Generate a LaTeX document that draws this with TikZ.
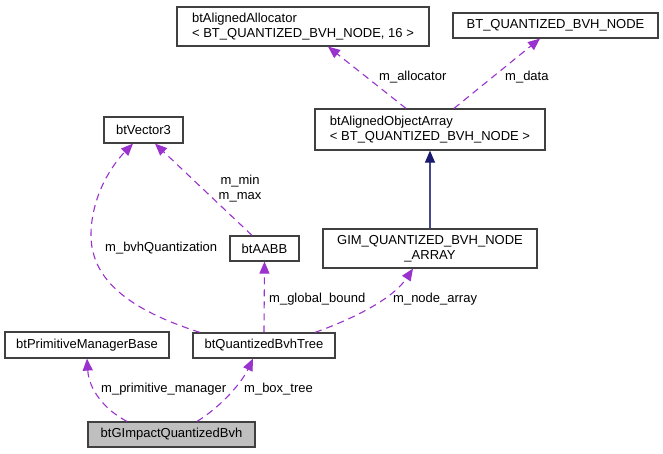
\documentclass[tikz,border=0pt]{standalone}
\usepackage{fontspec}
\setmainfont{Liberation Sans}
\usetikzlibrary{arrows.meta}
\definecolor{edgepurple}{HTML}{9A32CD}
\definecolor{navyedge}{HTML}{191970}
\definecolor{boxline}{HTML}{404040}
\definecolor{boxgray}{HTML}{BFBFBF}
\begin{document}
\begin{tikzpicture}[x=1pt,y=-1pt,
  font=\fontsize{13}{15}\selectfont,
  cls/.style={draw=boxline, line width=1.2pt, inner sep=0pt, fill=white},
  usage/.style={draw=edgepurple, line width=1.1pt, dash pattern=on 7pt off 5pt, -{Triangle[length=12pt,width=10pt]}},
  inherit/.style={draw=navyedge!80!white, line width=1.1pt, -{Triangle[length=12pt,width=10pt,color=navyedge,fill=navyedge]}},
  lbl/.style={inner sep=0pt, anchor=west}]
\useasboundingbox[fill=white] (0,0) rectangle (663,453);

\node[cls, minimum width=252pt, minimum height=39pt, align=left] (alloc) at (303,26.5) {btAlignedAllocator\\< BT\_QUANTIZED\_BVH\_NODE, 16 >};
\node[cls, minimum width=205pt, minimum height=25pt] (bqbn) at (555.5,25.5) {BT\_QUANTIZED\_BVH\_NODE};
\node[cls, minimum width=230pt, minimum height=41pt, align=left] (aoa) at (430,129.5) {btAlignedObjectArray\\< BT\_QUANTIZED\_BVH\_NODE >};
\node[cls, minimum width=79pt, minimum height=26pt] (vec) at (143.5,130) {btVector3};
\node[cls, minimum width=69pt, minimum height=25pt] (aabb) at (264.5,248.5) {btAABB};
\node[cls, minimum width=214pt, minimum height=39pt, align=center] (gim) at (430,248.5) {GIM\_QUANTIZED\_BVH\_NODE\\\_ARRAY};
\node[cls, minimum width=164pt, minimum height=26pt] (pmb) at (87,345) {btPrimitiveManagerBase};
\node[cls, minimum width=142pt, minimum height=25pt] (qbt) at (264,345.5) {btQuantizedBvhTree};
\node[cls, fill=boxgray, minimum width=167pt, minimum height=25pt] (gqb) at (171.5,434.5) {btGImpactQuantizedBvh};

% edges
\draw[usage] ([xshift=-24pt]aoa.north) -- ([xshift=25pt]alloc.south);
\draw[usage] ([xshift=24pt]aoa.north) -- ([xshift=-15.5pt]bqbn.south);
\draw[inherit] (gim.north) -- (aoa.south);
\draw[usage] ([xshift=-12.5pt]aabb.north) -- ([xshift=11.5pt]vec.south);
\draw[usage] ([xshift=-64pt]qbt.north) .. controls (130,310) and (90,280) .. (91,233) .. controls (92,195) and (112,165) .. ([xshift=-10.5pt]vec.south);
\draw[usage] (qbt.north) -- (aabb.south);
\draw[usage] ([xshift=51pt]qbt.north) .. controls (350,320) and (392,300) .. ([xshift=-17pt]gim.south);
\draw[usage] ([xshift=-44.5pt]gqb.north) .. controls (105,410) and (89,390) .. (pmb.south);
\draw[usage] ([xshift=25.5pt]gqb.north) .. controls (222,406) and (242,382) .. ([xshift=-11pt]qbt.south);

% labels
\node[lbl] (lalloc) at (379,77) {m\_allocator};
\node[lbl] (ldata) at (505,77) {m\_data};
\node[inner sep=0pt, align=center] (lminmax) at (240,189) {m\_min\\m\_max};
\node[lbl] (lbvhq) at (105,248) {m\_bvhQuantization};
\node[lbl] (lgb) at (269,299) {m\_global\_bound};
\node[lbl] (lna) at (393,299) {m\_node\_array};
\node[lbl] (lpm) at (101,389) {m\_primitive\_manager};
\node[lbl] (lbt) at (244,389) {m\_box\_tree};
\end{tikzpicture}
\end{document}
